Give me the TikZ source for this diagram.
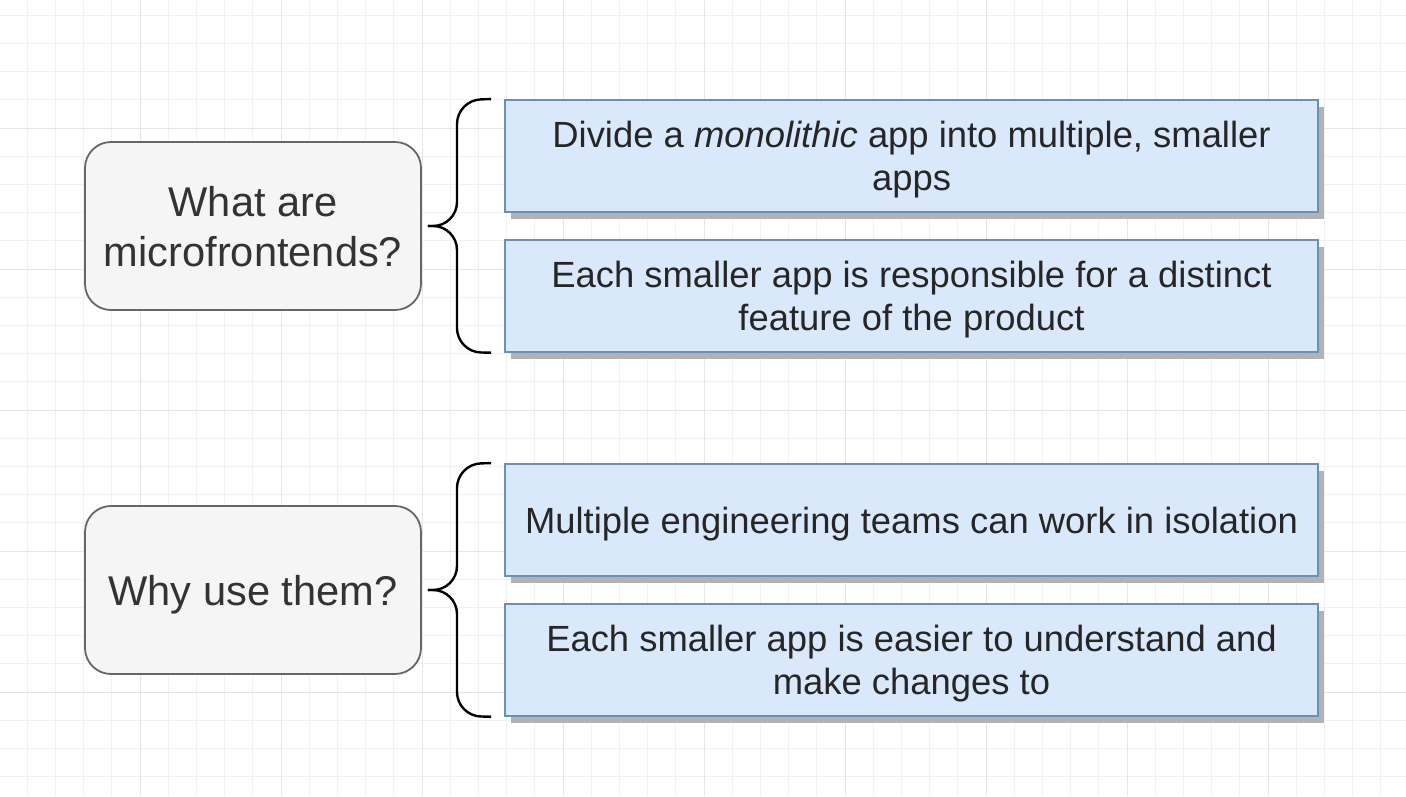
\documentclass[tikz,border=0pt]{standalone}
\usepackage{fontspec}
\setmainfont{Liberation Sans}
\usetikzlibrary{positioning,shadows}

\definecolor{qfill}{HTML}{F5F5F5}
\definecolor{qline}{HTML}{666666}
\definecolor{qtext}{HTML}{333333}
\definecolor{afill}{HTML}{DAE8FC}
\definecolor{aline}{HTML}{6C8EBF}
\definecolor{gridminor}{HTML}{F1F1F1}
\definecolor{gridmajor}{HTML}{E6E6E6}

\begin{document}
\begin{tikzpicture}[
        x=1pt,
        y=-1pt,
        node distance=26pt,
        question/.style={
            rectangle,
            rounded corners=26pt,
            draw=qline,
            line width=1.8pt,
            fill=qfill,
            text=qtext,
            minimum width=336pt,
            minimum height=168pt,
            inner sep=0pt,
            text depth=0pt,
            align=center,
            font=\fontsize{41.6}{50}\selectfont
        },
        answer/.style={
            rectangle,
            draw=aline,
            line width=1.8pt,
            fill=afill,
            text=black!85,
            minimum width=813pt,
            minimum height=112pt,
            inner sep=0pt,
            text depth=0pt,
            align=center,
            font=\fontsize{36.4}{43.5}\selectfont,
            drop shadow={shadow xshift=6pt, shadow yshift=-7pt, fill=black!30, opacity=1}
        },
        bracket/.style={
            draw=black,
            line width=2.4pt,
            rounded corners=24pt
        }
    ]
    \useasboundingbox (0,0) rectangle (1406,796);
    \fill[white] (0,0) rectangle (1406,796);

    % background grid
    \foreach \i in {0,...,49} {
        \draw[gridminor, line width=1pt] ({\i*28.2-1},0) -- ({\i*28.2-1},796);
    }
    \foreach \j in {0,...,28} {
        \draw[gridminor, line width=1pt] (0,{\j*28.2-13}) -- (1406,{\j*28.2-13});
    }
    \foreach \i in {0,...,9} {
        \draw[gridmajor, line width=1pt] ({\i*141-1},0) -- ({\i*141-1},796);
    }
    \foreach \j in {0,...,5} {
        \draw[gridmajor, line width=1pt] (0,{\j*141-13}) -- (1406,{\j*141-13});
    }

    % questions
    \node[question] (what) at (253,226) {What are\\microfrontends?};
    \node[question] (why) at (253,590) {Why use them?};

    % answers
    \node[answer] (divide) at (911.5,156) {Divide a \textit{monolithic} app into multiple, smaller\\apps};
    \node[answer, below=of divide] (feature) {Each smaller app is responsible for a distinct\\feature of the product};
    \node[answer] (teams) at (911.5,520) {Multiple engineering teams can work in isolation};
    \node[answer, below=of teams] (easier) {Each smaller app is easier to understand and\\make changes to};

    % braces
    \coordinate (tipwhat) at ([xshift=6pt]what.east);
    \coordinate (tipwhy) at ([xshift=6pt]why.east);
    \draw[bracket] ([xshift=-13pt]divide.north west) -- (457,100) -- (457,226) -- (tipwhat);
    \draw[bracket] (tipwhat) -- (457,226) -- (457,352) -- ([xshift=-13pt]feature.south west);
    \draw[bracket] ([xshift=-13pt]teams.north west) -- (457,464) -- (457,590) -- (tipwhy);
    \draw[bracket] (tipwhy) -- (457,590) -- (457,716) -- ([xshift=-13pt]easier.south west);
\end{tikzpicture}
\end{document}
